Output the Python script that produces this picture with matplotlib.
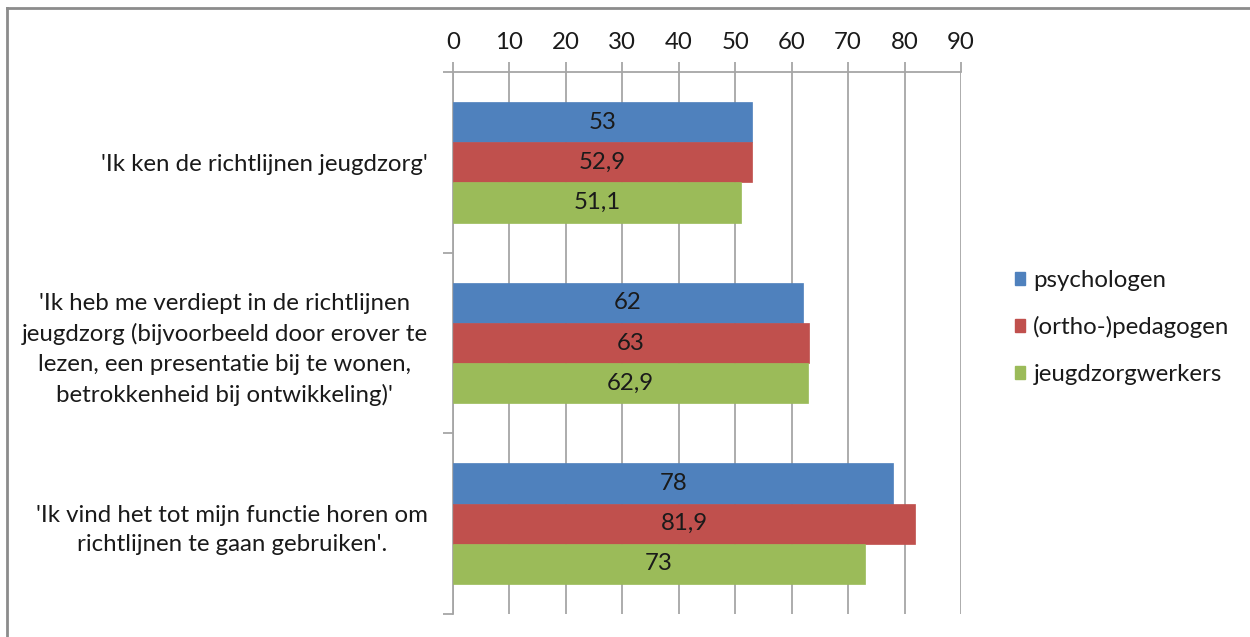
import matplotlib
matplotlib.use("Agg")
import matplotlib.pyplot as plt
from matplotlib.lines import Line2D
from matplotlib.patches import Patch
import numpy as np

plt.rcParams['font.family'] = ['Lato', 'DejaVu Sans']

categories = [
    "'Ik ken de richtlijnen jeugdzorg'",
    "'Ik heb me verdiept in de richtlijnen\njeugdzorg (bijvoorbeeld door erover te\nlezen, een presentatie bij te wonen,\nbetrokkenheid bij ontwikkeling)'",
    "'Ik vind het tot mijn functie horen om\nrichtlijnen te gaan gebruiken'.",
]
series_names = ["psychologen", "(ortho-)pedagogen", "jeugdzorgwerkers"]
psychologen = [53, 62, 78]
pedagogen = [52.9, 63, 81.9]
jeugdzorgwerkers = [51.1, 62.9, 73]
x_ticks = [0, 10, 20, 30, 40, 50, 60, 70, 80, 90]

colors = ["#4F81BD", "#C0504D", "#9BBB59"]
grid_color = "#A6A6A6"
text_color = "#1A1A1A"
fs = 17.3

fig = plt.figure(figsize=(12.5, 6.37), dpi=100)
ax = fig.add_axes([453 / 1250, 1 - 614 / 637, (961 - 453) / 1250, (614 - 72) / 637])

y = np.arange(len(categories))
h = 2 / 9
series = [psychologen, pedagogen, jeugdzorgwerkers]
for i, (vals, name, c) in enumerate(zip(series, series_names, colors)):
    pos = y + (i - 1) * h
    ax.barh(pos, vals, height=h, color=c, edgecolor=c, linewidth=0.5,
            label=name, zorder=3)
    for v, p in zip(vals, pos):
        ax.text(v / 2, p, f"{v:g}".replace(".", ","), ha="center", va="center",
                fontsize=fs, color=text_color, zorder=4)

ax.set_xlim(0, 90)
ax.set_ylim(2.5, -0.5)
ax.xaxis.tick_top()
ax.set_xticks(x_ticks)
ax.set_xticklabels([str(t) for t in x_ticks], fontsize=fs, color=text_color)
ax.tick_params(axis="x", which="major", direction="out", length=7, width=1.3,
               color=grid_color, pad=7)
ax.grid(axis="x", color=grid_color, linewidth=1.3, zorder=0)

ax.set_yticks(y)
ax.set_yticklabels(categories, fontsize=fs, color=text_color,
                   multialignment="center", linespacing=1.5)
ax.tick_params(axis="y", which="major", length=0, pad=18)
ax.set_yticks([-0.5, 0.5, 1.5, 2.5], minor=True)
ax.tick_params(axis="y", which="minor", direction="out", length=7, width=1.3,
               color=grid_color)

for s in ["right", "bottom"]:
    ax.spines[s].set_visible(False)
for s in ["top", "left"]:
    ax.spines[s].set_color(grid_color)
    ax.spines[s].set_linewidth(1.3)

handles = [Patch(facecolor=c, edgecolor=c) for c in colors]
leg = fig.legend(handles, series_names, loc="upper left",
                 bbox_to_anchor=(1005 / 1250, 1 - 260 / 637), frameon=False,
                 fontsize=fs, handlelength=0.45, handleheight=0.45,
                 handletextpad=0.33, labelspacing=1.06, borderaxespad=0)
for t in leg.get_texts():
    t.set_color(text_color)

# outer chart frame (top and left edges)
fig.add_artist(Line2D([7 / 1250, 1.0], [1 - 8 / 637, 1 - 8 / 637],
                      transform=fig.transFigure, color="#8C8C8C", linewidth=2))
fig.add_artist(Line2D([7 / 1250, 7 / 1250], [1 - 8 / 637, 0.0],
                      transform=fig.transFigure, color="#8C8C8C", linewidth=2))

fig.savefig("out.png", dpi=100)
